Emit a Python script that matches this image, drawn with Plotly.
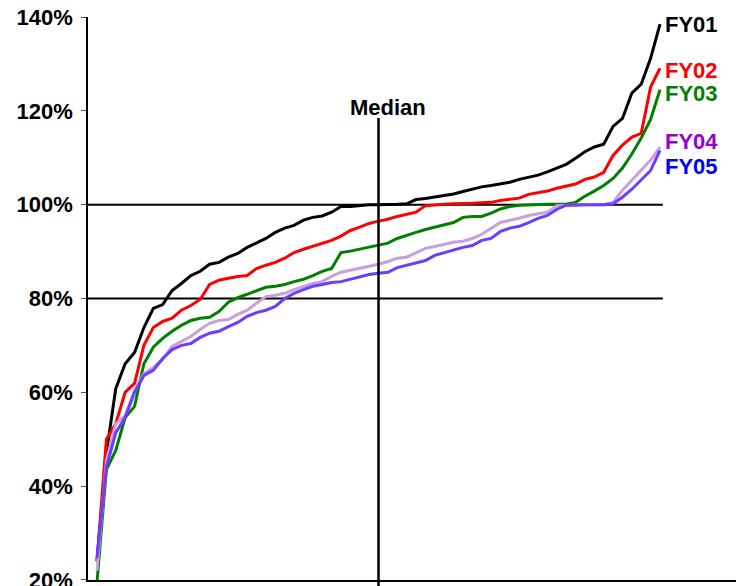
import plotly.graph_objects as go

# Sorted ratios (percent) for each fiscal year, one value per ranked unit
rank = list(range(61))

fy01 = [24, 47, 60.8, 66.1, 68.5, 73.8, 77.9, 78.7, 81.7, 83.2,
        84.9, 85.8, 87.3, 87.7, 88.8, 89.6, 90.9, 91.8, 92.8, 94.1,
        95.0, 95.6, 96.7, 97.3, 97.6, 98.4, 99.6, 99.6, 99.8, 100.0,
        100.0, 100.0, 100.1, 100.2, 101.1, 101.3, 101.6, 101.9, 102.3, 102.8,
        103.3, 103.8, 104.1, 104.5, 104.8, 105.4, 105.8, 106.3, 107.0, 107.8,
        108.6, 109.9, 111.3, 112.3, 112.9, 116.7, 118.4, 123.8, 125.7, 131.2,
        138.5]

fy02 = [24, 50, 53.3, 60.0, 61.9, 70.0, 73.8, 75.1, 75.8, 77.5,
        78.5, 79.8, 83.0, 83.9, 84.3, 84.7, 84.9, 86.4, 87.1, 87.7,
        88.6, 89.8, 90.5, 91.1, 91.8, 92.4, 93.3, 94.5, 95.2, 96.0,
        96.5, 96.9, 97.5, 98.0, 98.4, 99.8, 100.0, 100.1, 100.2, 100.2,
        100.3, 100.4, 100.5, 100.9, 101.2, 101.4, 102.2, 102.6, 102.9, 103.5,
        103.9, 104.4, 105.4, 105.9, 106.9, 110.5, 112.7, 114.4, 115.2, 125.1,
        129.1]

fy03 = [19.5, 43.5, 47.6, 54.6, 57.0, 66.1, 69.6, 71.5, 73.0, 74.3,
        75.3, 75.8, 76.0, 77.2, 79.2, 80.2, 80.9, 81.7, 82.4, 82.6,
        83.0, 83.6, 84.1, 84.9, 85.8, 86.4, 89.8, 90.1, 90.5, 90.9,
        91.3, 91.8, 92.8, 93.5, 94.1, 94.7, 95.2, 95.8, 96.2, 97.3,
        97.5, 97.5, 98.2, 99.1, 99.6, 99.9, 100.0, 100.1, 100.1, 100.1,
        100.1, 100.5, 101.8, 102.9, 104.1, 105.6, 107.8, 110.8, 114.2, 118.2,
        124.5]

fy04 = [22, 45.5, 53.3, 55.0, 60.4, 64.0, 65.3, 67.0, 69.8, 70.8,
        71.9, 73.4, 74.7, 75.3, 75.5, 76.6, 77.5, 79.0, 80.4, 80.7,
        81.1, 81.9, 82.6, 83.2, 83.6, 84.7, 85.6, 86.0, 86.4, 86.9,
        87.3, 87.9, 88.6, 88.8, 89.8, 90.7, 91.1, 91.5, 92.0, 92.2,
        92.8, 93.7, 95.0, 96.2, 96.7, 97.1, 97.7, 98.0, 98.4, 99.8,
        99.9, 100.0, 100.0, 100.0, 100.0, 100.5, 103.1, 105.2, 107.3, 109.5,
        112.3]

fy05 = [24.7, 44.0, 51.4, 54.6, 60.0, 63.6, 64.7, 67.2, 69.1, 70.0,
        70.4, 71.7, 72.6, 73.0, 74.0, 74.9, 76.2, 77.0, 77.5, 78.3,
        80.0, 81.1, 81.9, 82.6, 83.0, 83.4, 83.6, 84.1, 84.5, 85.1,
        85.4, 85.6, 86.6, 87.1, 87.5, 88.1, 89.2, 89.8, 90.3, 90.9,
        91.3, 92.4, 92.8, 94.3, 95.0, 95.4, 96.2, 97.1, 97.7, 99.0,
        99.9, 100.0, 100.0, 100.0, 100.0, 100.2, 101.6, 103.3, 105.2, 107.3,
        111.6]

series_names = ["FY01", "FY02", "FY03", "FY04", "FY05"]
series_values = [fy01, fy02, fy03, fy04, fy05]
line_colors = ["#000000", "#FF0000", "#008000", "#C9A0DC", "#6A3DFF"]
label_colors = ["#000000", "#FF0000", "#008000", "#9900CC", "#0000FF"]
label_yshift = [0, -2, -4, 6, -16]

y_ticks = [20, 40, 60, 80, 100, 120, 140]
y_tick_text = [f"{v}%" for v in y_ticks]
reference_levels = [80, 100]
median_rank = 30
median_top = 118.5
y_range = [19.98, 140.02]
x_range = [-0.96, 68.1]

FONT = "Arial, Liberation Sans, sans-serif"

fig = go.Figure()
for name, vals, col in zip(series_names, series_values, line_colors):
    fig.add_trace(go.Scatter(x=rank, y=vals, mode="lines", name=name,
                             line=dict(color=col, width=3), showlegend=False))

# Reference levels across the ranked range
for lvl in reference_levels:
    fig.add_shape(type="line", xref="x", yref="y", x0=x_range[0], x1=rank[-1] + 0.3,
                  y0=lvl, y1=lvl, line=dict(color="black", width=2), layer="below")

# Median marker
median_frac = (median_top - y_range[0]) / (y_range[1] - y_range[0])
fig.add_shape(type="line", xref="x", yref="paper", x0=median_rank, x1=median_rank,
              y0=-0.02, y1=median_frac, line=dict(color="black", width=2.5))
fig.add_annotation(x=median_rank, y=median_frac, xref="x", yref="paper",
                   text="<b>Median</b>", showarrow=False, xanchor="center",
                   yanchor="bottom", xshift=9, yshift=-4,
                   font=dict(family=FONT, size=22, color="black"))

# End-of-line series labels
for name, vals, col, ys in zip(series_names, series_values, label_colors, label_yshift):
    fig.add_annotation(x=rank[-1], y=vals[-1], xref="x", yref="y",
                       text=f"<b>{name}</b>", showarrow=False, xanchor="left",
                       yanchor="middle", xshift=3, yshift=ys,
                       font=dict(family=FONT, size=22, color=col))

fig.update_layout(
    width=736, height=586,
    margin=dict(l=88, r=0, t=17, b=6),
    paper_bgcolor="white", plot_bgcolor="white",
    font=dict(family=FONT),
)
fig.update_xaxes(range=x_range, showgrid=False, zeroline=False, showticklabels=False,
                 ticks="", showline=True, linecolor="black", linewidth=1.5,
                 automargin=False)
fig.update_yaxes(range=y_range, tickvals=y_ticks, ticktext=y_tick_text,
                 showgrid=False, zeroline=False, showline=True, linecolor="black",
                 linewidth=1.5, ticks="outside", ticklen=5, tickcolor="#555",
                 ticklabelstandoff=4, ticklabeloverflow="allow", automargin=False,
                 tickfont=dict(family=FONT, size=22, color="black", weight="bold"))

fig.write_html("out.html")
